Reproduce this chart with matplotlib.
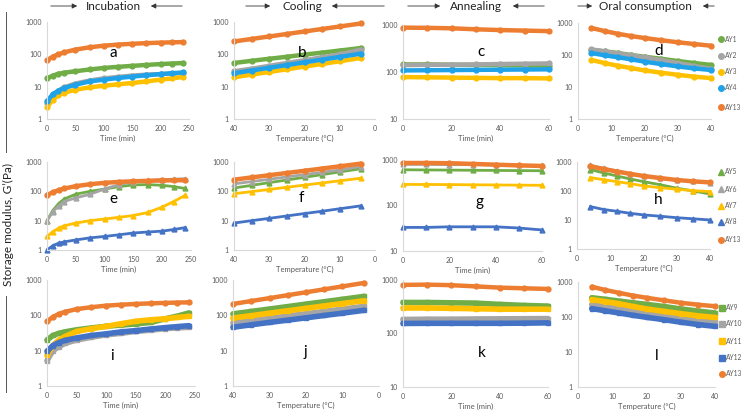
import matplotlib
matplotlib.use("Agg")
import matplotlib.pyplot as plt
from matplotlib.lines import Line2D

plt.rcParams['font.family'] = ['Lato', 'DejaVu Sans']

# ---------------- data ----------------
t_inc = [0, 10, 20, 30, 50, 75, 100, 125, 150, 175, 200, 220, 240]
T_cool = [40, 35, 30, 25, 20, 15, 10, 4]
t_ann = [0, 10, 20, 30, 40, 50, 60]
T_oral = [4, 8, 12, 16, 20, 25, 30, 35, 40]

names_r1 = ["AY1", "AY2", "AY3", "AY4", "AY13"]
names_r2 = ["AY5", "AY6", "AY7", "AY8", "AY13"]
names_r3 = ["AY9", "AY10", "AY11", "AY12", "AY13"]

a_vals = {
    "AY1": [18, 22, 25, 27, 30, 34, 38, 41, 44, 47, 50, 52, 54],
    "AY2": [3.2, 5.5, 7.5, 9.5, 12.5, 15.5, 18, 20, 22, 23.5, 24.5, 25.5, 26.5],
    "AY3": [2.3, 4, 5.5, 6.5, 8, 9.5, 10.7, 11.8, 13, 14.5, 16.5, 18, 20],
    "AY4": [3.5, 5.8, 7.5, 9, 11.5, 14.5, 16.5, 18.5, 20.5, 22.5, 24.5, 26, 27.5],
    "AY13": [65, 85, 100, 115, 140, 165, 185, 200, 212, 222, 230, 235, 240],
}
b_vals = {
    "AY1": [54, 63, 73, 84, 98, 113, 131, 157],
    "AY2": [30, 36, 44, 54, 66, 81, 100, 140],
    "AY3": [19.5, 23.6, 28.5, 34.5, 41.8, 50.5, 61, 77],
    "AY4": [26, 31.6, 38.3, 46.5, 56.5, 68.6, 83, 105],
    "AY13": [250, 299, 357, 426, 509, 608, 727, 900],
}
c_vals = {
    "AY1": [145, 145, 143, 142, 140, 138, 136],
    "AY2": [140, 142, 143, 145, 148, 150, 152],
    "AY3": [78, 77, 76, 75, 74, 74, 73],
    "AY4": [108, 109, 110, 111, 112, 113, 114],
    "AY13": [880, 870, 850, 810, 780, 760, 740],
}
d_vals = {
    "AY1": [145, 130, 115, 100, 88, 76, 65, 56, 49],
    "AY2": [150, 130, 112, 97, 84, 70, 56, 45, 37],
    "AY3": [70, 56, 46, 39, 33, 28, 24, 21, 19],
    "AY4": [115, 98, 85, 73, 62, 52, 44, 38, 34],
    "AY13": [700, 560, 460, 390, 340, 290, 250, 220, 195],
}
e_vals = {
    "AY5": [10, 22, 38, 55, 80, 100, 120, 145, 165, 170, 160, 145, 125],
    "AY6": [10, 20, 32, 45, 60, 80, 120, 170, 210, 235, 250, 260, 270],
    "AY7": [2.9, 4.2, 5.5, 6.7, 8.3, 10, 11.4, 13, 15, 19, 29, 45, 73],
    "AY8": [1.0, 1.4, 1.7, 1.9, 2.2, 2.6, 2.9, 3.3, 3.8, 4.1, 4.4, 5.0, 5.8],
    "AY13": [75, 92, 110, 125, 150, 175, 195, 210, 220, 228, 235, 238, 240],
}
f_vals = {
    "AY5": [130, 160, 198, 244, 301, 372, 459, 590],
    "AY6": [180, 215, 258, 310, 372, 446, 535, 700],
    "AY7": [83, 98, 116, 138, 163, 193, 229, 280],
    "AY8": [8.3, 10, 12, 14.5, 17.5, 21, 25.5, 32],
    "AY13": [250, 298, 355, 422, 503, 599, 713, 880],
}
g_vals = {
    "AY5": [610, 605, 600, 595, 590, 585, 580],
    "AY6": [800, 800, 790, 790, 780, 770, 760],
    "AY7": [290, 290, 288, 285, 283, 280, 278],
    "AY8": [33, 33, 34, 34, 34, 32, 29],
    "AY13": [860, 860, 850, 820, 790, 760, 740],
}
h_vals = {
    "AY5": [550, 420, 330, 260, 210, 165, 125, 100, 79],
    "AY6": [770, 610, 490, 400, 335, 280, 240, 215, 195],
    "AY7": [290, 245, 210, 180, 150, 130, 115, 103, 95],
    "AY8": [29, 23, 20, 17, 15, 13.5, 12, 11, 10],
    "AY13": [710, 570, 470, 390, 330, 280, 240, 215, 198],
}
i_vals = {
    "AY9": [20, 27, 31, 34, 39, 44, 49, 53, 57, 63, 80, 95, 117],
    "AY10": [5.2, 10, 13, 16, 20, 24, 28, 31, 35, 38, 42, 44, 46],
    "AY11": [7.4, 14, 20, 25, 35, 42, 49, 58, 68, 75, 80, 87, 94],
    "AY12": [9.6, 14, 17, 19.5, 23, 27, 30, 34, 37, 41, 45, 48, 51],
    "AY13": [68, 90, 110, 125, 150, 170, 188, 200, 210, 218, 225, 230, 233],
}
j_vals = {
    "AY9": [110, 129, 151, 177, 208, 243, 285, 345],
    "AY10": [61, 71, 82, 96, 111, 129, 150, 180],
    "AY11": [84, 98, 115, 135, 158, 185, 216, 260],
    "AY12": [46, 54, 63, 73, 85, 99, 115, 139],
    "AY13": [210, 254, 307, 372, 450, 545, 660, 830],
}
k_vals = {
    "AY9": [380, 380, 375, 370, 350, 335, 325],
    "AY10": [183, 185, 185, 187, 188, 189, 190],
    "AY11": [300, 300, 295, 290, 285, 285, 285],
    "AY12": [154, 155, 155, 155, 155, 156, 158],
    "AY13": [810, 820, 800, 760, 720, 700, 680],
}
l_vals = {
    "AY9": [355, 320, 285, 255, 230, 200, 170, 148, 130],
    "AY10": [227, 195, 170, 148, 130, 112, 95, 82, 72],
    "AY11": [315, 275, 240, 200, 170, 145, 125, 108, 97],
    "AY12": [174, 150, 130, 112, 98, 84, 71, 61, 54],
    "AY13": [735, 590, 490, 410, 355, 300, 255, 225, 203],
}

colors = {
    "AY1": "#70AD47", "AY2": "#A5A5A5", "AY3": "#FFC000", "AY4": "#1FA2E8",
    "AY5": "#70AD47", "AY6": "#A5A5A5", "AY7": "#FFC000", "AY8": "#4472C4",
    "AY9": "#70AD47", "AY10": "#A5A5A5", "AY11": "#FFC000", "AY12": "#4472C4",
    "AY13": "#ED7D31",
}

# ---------------- layout ----------------
W, H = 745, 413
fig = plt.figure(figsize=(W / 100, H / 100), dpi=100)
TICKC = "#595959"
SPINEC = "#D9D9D9"


def make_ax(x0, x1, ytop, ybot):
    return fig.add_axes([x0 / W, 1 - ybot / H, (x1 - x0) / W, (ybot - ytop) / H])


def style(ax, xlim, xticks, ylim, xlabel):
    ax.set_yscale("log")
    ax.set_xlim(*xlim)
    ax.set_ylim(*ylim)
    ax.set_xticks(xticks)
    yt = [v for v in [1, 10, 100, 1000] if ylim[0] <= v <= ylim[1]]
    ax.set_yticks(yt)
    ax.set_yticklabels([str(v) for v in yt])
    ax.minorticks_off()
    ax.tick_params(length=0, labelsize=5, colors=TICKC, pad=4)
    for s in ["top", "right"]:
        ax.spines[s].set_visible(False)
    for s in ["left", "bottom"]:
        ax.spines[s].set_color(SPINEC)
        ax.spines[s].set_linewidth(0.8)
    ax.set_xlabel(xlabel, fontsize=5.5, color=TICKC, labelpad=2)
    ax.patch.set_alpha(0)


def draw(ax, x, vals, names, row):
    for n in names:
        c = colors[n]
        if n == "AY13":
            mk, lw, ms = "o", 3.2, 3.5
        elif row == 1:
            mk, lw, ms = "o", 3.2, 3.5
        elif row == 2:
            mk, lw, ms = "^", 2.0, 3.5
        else:
            mk, lw, ms = "s", 4.0, 3.0
        ax.plot(x, vals[n], color=c, lw=lw, marker=mk, ms=ms, mec=c, mfc=c,
                solid_capstyle="round", clip_on=False)


def legend(names, row, xm, ys):
    for n, y in zip(names, ys):
        c = colors[n]
        if n == "AY13":
            mk, ms = "o", 4
        elif row == 1:
            mk, ms = "o", 4
        elif row == 2:
            mk, ms = "^", 4
        else:
            mk, ms = "s", 4
        fig.add_artist(Line2D([xm / W], [1 - y / H], marker=mk, color=c,
                              ms=ms, mec=c, mfc=c, lw=0))
        fig.text((xm + 4) / W, 1 - y / H, n, fontsize=4.8, color=TICKC,
                 va="center", ha="left")


panels = [
    # row 1
    ("a", (47, 189, 22, 119), t_inc, a_vals, names_r1, 1, (0, 250), [0, 50, 100, 150, 200, 250], (1, 1000), "Time (min)", (113, 53)),
    ("b", (234, 375, 22, 119), T_cool, b_vals, names_r1, 1, (40, 0), [40, 30, 20, 10, 0], (1, 1000), "Temperature (°C)", (302, 53)),
    ("c", (403, 549, 25, 119), t_ann, c_vals, names_r1, 1, (0, 60), [0, 20, 40, 60], (10, 1000), "Time (min)", (481, 52)),
    ("d", (578, 711, 23, 119), T_oral, d_vals, names_r1, 1, (0, 40), [0, 10, 20, 30, 40], (1, 1000), "Temperature (°C)", (659, 51)),
    # row 2
    ("e", (47, 191, 162, 250), t_inc, e_vals, names_r2, 2, (0, 250), [0, 50, 100, 150, 200, 250], (1, 1000), "Time (min)", (113, 199)),
    ("f", (234, 375, 162, 250), T_cool, f_vals, names_r2, 2, (40, 0), [40, 30, 20, 10, 0], (1, 1000), "Temperature (°C)", (301, 198)),
    ("g", (403, 542, 160, 251), t_ann, g_vals, names_r2, 2, (0, 60), [0, 20, 40, 60], (10, 1000), "Time (min)", (480, 202)),
    ("h", (577, 710, 162, 249), T_oral, h_vals, names_r2, 2, (0, 40), [0, 10, 20, 30, 40], (1, 1000), "Temperature (°C)", (658, 200)),
    # row 3
    ("i", (47, 195, 280, 386), t_inc, i_vals, names_r3, 3, (0, 250), [0, 50, 100, 150, 200, 250], (1, 1000), "Time (min)", (112, 356)),
    ("j", (233, 379, 280, 386), T_cool, j_vals, names_r3, 3, (40, 0), [40, 30, 20, 10, 0], (1, 1000), "Temperature (°C)", (305, 352)),
    ("k", (403, 548, 280, 387), t_ann, k_vals, names_r3, 3, (0, 60), [0, 20, 40, 60], (10, 1000), "Time (min)", (482, 353)),
    ("l", (578, 715, 282, 387), T_oral, l_vals, names_r3, 3, (0, 40), [0, 10, 20, 30, 40], (1, 1000), "Temperature (°C)", (657, 356)),
]

for letter, box, x, vals, names, row, xlim, xt, ylim, xlabel, lpos in panels:
    ax = make_ax(*box)
    style(ax, xlim, xt, ylim, xlabel)
    draw(ax, x, vals, names, row)
    fig.text(lpos[0] / W, 1 - lpos[1] / H, letter, fontsize=11, color="black",
             ha="center", va="center")

legend(names_r1, 1, 721, [39, 56, 72, 88, 107])
legend(names_r2, 2, 721, [172, 189, 206, 222, 240])
legend(names_r3, 3, 722, [308, 324, 341, 358, 374])

# ---------------- headers ----------------
headers = [
    ("Incubation", 113, (48, 80), (185, 148)),
    ("Cooling", 302, (243, 273), (387, 329)),
    ("Annealing", 476, (405, 443), (547, 510)),
    ("Oral consumption", 645, (575, 595), (717, 700)),
]
for txt, xc, ra, la in headers:
    fig.text(xc / W, 1 - 7 / H, txt, fontsize=8.5, ha="center", va="center",
             color="#222222")
    for (xs, xe) in (ra, la):
        fig.add_artist(matplotlib.patches.FancyArrowPatch(
            (xs / W, 1 - 6 / H), (xe / W, 1 - 6 / H), transform=fig.transFigure,
            arrowstyle="-|>,head_length=3,head_width=1.5", lw=0.6, color="#333333"))

# ---------------- y label ----------------
fig.text(8 / W, 1 - 224 / H, "Storage modulus, G’(Pa)", rotation=90,
         fontsize=8.5, ha="center", va="center", color="#222222")
fig.add_artist(Line2D([6 / W, 6 / W], [1 - 12 / H, 1 - 152 / H], color="#555555", lw=0.7))
fig.add_artist(Line2D([6 / W, 6 / W], [1 - 296 / H, 1 - 392 / H], color="#555555", lw=0.7))

fig.savefig("out.png", dpi=100)
